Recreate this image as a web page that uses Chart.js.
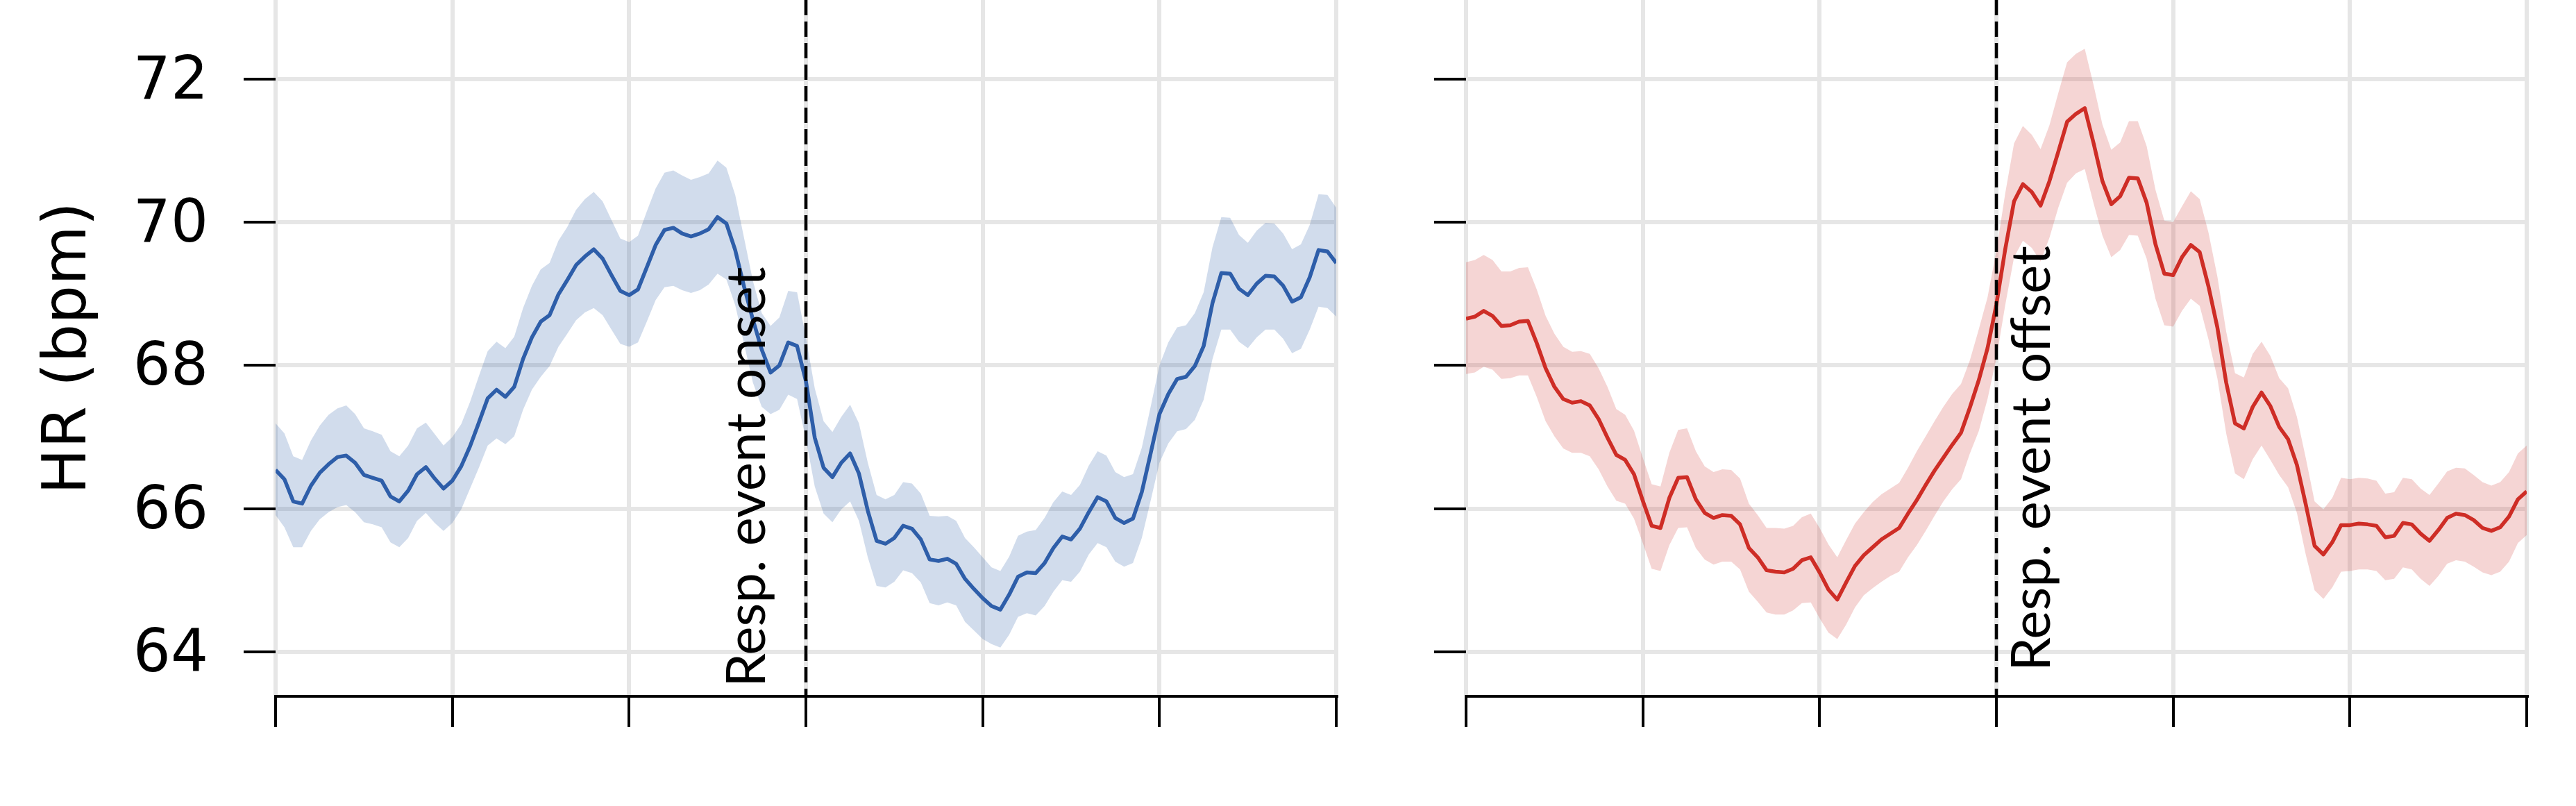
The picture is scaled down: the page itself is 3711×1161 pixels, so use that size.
<!DOCTYPE html>
<html>
<head>
<meta charset="utf-8">
<script src="https://cdn.jsdelivr.net/npm/chart.js@4.4.1/dist/chart.umd.min.js"></script>
<style>
html, body { margin: 0; padding: 0; background: #fff; }
#wrap { position: relative; width: 3711px; height: 1161px; overflow: hidden; background: #fff; }
canvas { position: absolute; top: 0; }
#onsetChart { left: 0; }
#offsetChart { left: 2066px; }
</style>
</head>
<body>
<div id="wrap">
<canvas id="onsetChart" width="1935" height="1161"></canvas>
<canvas id="offsetChart" width="1584" height="1161"></canvas>
</div>
<script>
// HR around respiratory event onset (blue) and offset (red), mean with band
var xTicks = [0, 20, 40, 60, 80, 100, 120];
var yTicks = [64, 66, 68, 70, 72];
var yMin = 63.38, yMax = 73.1;
var eventAt = 60;

var onsetMean = [66.54, 66.41, 66.10, 66.07, 66.32, 66.50, 66.62, 66.72, 66.74, 66.64,
  66.47, 66.43, 66.39, 66.17, 66.10, 66.25, 66.48, 66.58, 66.42, 66.28,
  66.39, 66.59, 66.87, 67.20, 67.54, 67.66, 67.56, 67.70, 68.09, 68.39,
  68.61, 68.70, 68.99, 69.19, 69.40, 69.52, 69.62, 69.49, 69.26, 69.04,
  68.98, 69.06, 69.37, 69.68, 69.89, 69.92, 69.84, 69.80, 69.84, 69.90,
  70.07, 69.98, 69.61, 69.10, 68.64, 68.22, 67.90, 68.00, 68.32, 68.27,
  67.78, 66.99, 66.57, 66.44, 66.64, 66.77, 66.49, 65.97, 65.55, 65.51,
  65.59, 65.76, 65.72, 65.57, 65.29, 65.27, 65.30, 65.23, 65.02, 64.88,
  64.75, 64.64, 64.59, 64.80, 65.05, 65.11, 65.10, 65.24, 65.45, 65.61,
  65.57, 65.72, 65.95, 66.16, 66.10, 65.87, 65.80, 65.86, 66.23, 66.77,
  67.32, 67.60, 67.81, 67.84, 67.99, 68.27, 68.87, 69.29, 69.28, 69.07,
  68.98, 69.14, 69.25, 69.24, 69.11, 68.89, 68.95, 69.23, 69.61, 69.59, 69.43];
var onsetUpper = [67.19, 67.05, 66.73, 66.68, 66.95, 67.16, 67.31, 67.40, 67.44, 67.32,
  67.12, 67.08, 67.03, 66.80, 66.73, 66.88, 67.12, 67.20, 67.04, 66.88,
  67.00, 67.18, 67.49, 67.85, 68.20, 68.33, 68.24, 68.40, 68.80, 69.11,
  69.34, 69.43, 69.74, 69.93, 70.17, 70.32, 70.42, 70.29, 70.03, 69.77,
  69.72, 69.81, 70.15, 70.47, 70.69, 70.72, 70.65, 70.59, 70.63, 70.68,
  70.86, 70.76, 70.38, 69.78, 69.18, 68.73, 68.55, 68.67, 69.04, 69.02,
  68.39, 67.68, 67.22, 67.07, 67.28, 67.45, 67.19, 66.64, 66.19, 66.13,
  66.19, 66.37, 66.35, 66.21, 65.90, 65.89, 65.90, 65.83, 65.59, 65.46,
  65.32, 65.18, 65.13, 65.33, 65.62, 65.68, 65.70, 65.87, 66.09, 66.24,
  66.19, 66.33, 66.60, 66.80, 66.74, 66.51, 66.44, 66.48, 66.85, 67.42,
  68.00, 68.32, 68.53, 68.56, 68.73, 69.02, 69.65, 70.07, 70.06, 69.82,
  69.71, 69.88, 69.99, 69.98, 69.84, 69.62, 69.69, 69.96, 70.39, 70.38, 70.20];
var onsetLower = [65.91, 65.74, 65.46, 65.46, 65.69, 65.85, 65.95, 66.02, 66.05, 65.95,
  65.81, 65.78, 65.74, 65.53, 65.46, 65.59, 65.83, 65.94, 65.80, 65.69,
  65.80, 65.99, 66.28, 66.57, 66.88, 66.98, 66.90, 67.01, 67.38, 67.66,
  67.84, 67.99, 68.26, 68.44, 68.63, 68.74, 68.80, 68.70, 68.50, 68.30,
  68.26, 68.32, 68.61, 68.91, 69.09, 69.11, 69.05, 69.01, 69.05, 69.13,
  69.28, 69.20, 68.84, 68.30, 67.76, 67.42, 67.32, 67.38, 67.59, 67.53,
  66.97, 66.31, 65.93, 65.81, 65.99, 66.10, 65.83, 65.32, 64.92, 64.90,
  64.98, 65.14, 65.10, 64.97, 64.68, 64.65, 64.69, 64.65, 64.42, 64.30,
  64.18, 64.11, 64.06, 64.24, 64.49, 64.54, 64.51, 64.64, 64.84, 65.00,
  64.98, 65.12, 65.36, 65.52, 65.46, 65.26, 65.19, 65.24, 65.59, 66.11,
  66.64, 66.91, 67.08, 67.11, 67.24, 67.52, 68.09, 68.50, 68.50, 68.33,
  68.24, 68.39, 68.50, 68.50, 68.37, 68.17, 68.23, 68.50, 68.82, 68.80, 68.68];

var offsetMean = [68.65, 68.68, 68.76, 68.69, 68.55, 68.56, 68.61, 68.62, 68.31, 67.96,
  67.70, 67.53, 67.48, 67.50, 67.44, 67.25, 66.99, 66.75, 66.68, 66.48,
  66.11, 65.76, 65.73, 66.15, 66.43, 66.44, 66.13, 65.94, 65.87, 65.91,
  65.90, 65.78, 65.45, 65.32, 65.14, 65.12, 65.11, 65.16, 65.28, 65.32,
  65.11, 64.87, 64.73, 64.97, 65.20, 65.35, 65.46, 65.57, 65.65, 65.73,
  65.93, 66.12, 66.33, 66.53, 66.71, 66.89, 67.06, 67.41, 67.79, 68.24,
  68.85, 69.62, 70.29, 70.53, 70.42, 70.23, 70.57, 70.98, 71.40, 71.51,
  71.59, 71.10, 70.57, 70.25, 70.36, 70.62, 70.61, 70.27, 69.69, 69.28,
  69.26, 69.51, 69.68, 69.58, 69.10, 68.53, 67.76, 67.19, 67.12, 67.42,
  67.62, 67.43, 67.14, 66.97, 66.61, 66.06, 65.48, 65.36, 65.53, 65.77,
  65.77, 65.79, 65.78, 65.76, 65.60, 65.62, 65.80, 65.78, 65.65, 65.55,
  65.70, 65.87, 65.93, 65.91, 65.84, 65.73, 65.69, 65.74, 65.89, 66.13, 66.24];
var offsetUpper = [69.44, 69.47, 69.54, 69.47, 69.31, 69.31, 69.36, 69.37, 69.06, 68.69,
  68.44, 68.26, 68.19, 68.20, 68.16, 67.96, 67.70, 67.39, 67.31, 67.09,
  66.71, 66.34, 66.31, 66.78, 67.10, 67.12, 66.80, 66.59, 66.51, 66.55,
  66.54, 66.42, 66.07, 65.91, 65.73, 65.73, 65.72, 65.76, 65.88, 65.93,
  65.73, 65.50, 65.32, 65.56, 65.79, 65.95, 66.09, 66.20, 66.28, 66.36,
  66.57, 66.80, 67.01, 67.22, 67.42, 67.60, 67.74, 68.07, 68.50, 68.95,
  69.60, 70.40, 71.10, 71.34, 71.22, 71.02, 71.35, 71.80, 72.23, 72.35,
  72.42, 71.91, 71.36, 71.01, 71.11, 71.41, 71.41, 71.06, 70.45, 70.02,
  70.00, 70.22, 70.43, 70.32, 69.85, 69.24, 68.47, 67.89, 67.83, 68.16,
  68.33, 68.13, 67.82, 67.68, 67.28, 66.71, 66.10, 65.99, 66.15, 66.43,
  66.41, 66.43, 66.42, 66.39, 66.21, 66.23, 66.43, 66.41, 66.28, 66.19,
  66.35, 66.52, 66.57, 66.56, 66.47, 66.37, 66.32, 66.37, 66.51, 66.77, 66.88];
var offsetLower = [67.88, 67.90, 67.98, 67.94, 67.81, 67.82, 67.86, 67.86, 67.56, 67.22,
  67.01, 66.84, 66.78, 66.78, 66.73, 66.55, 66.31, 66.11, 66.07, 65.86,
  65.52, 65.16, 65.13, 65.49, 65.73, 65.74, 65.45, 65.29, 65.22, 65.26,
  65.26, 65.15, 64.84, 64.70, 64.55, 64.52, 64.52, 64.58, 64.68, 64.69,
  64.47, 64.27, 64.18, 64.38, 64.62, 64.79, 64.89, 64.98, 65.06, 65.12,
  65.32, 65.49, 65.69, 65.90, 66.10, 66.27, 66.41, 66.77, 67.08, 67.53,
  68.10, 68.84, 69.51, 69.74, 69.64, 69.45, 69.78, 70.20, 70.55, 70.68,
  70.74, 70.26, 69.81, 69.51, 69.61, 69.82, 69.81, 69.49, 68.93, 68.56,
  68.54, 68.76, 68.93, 68.83, 68.36, 67.82, 67.05, 66.49, 66.41, 66.69,
  66.88, 66.68, 66.47, 66.30, 65.94, 65.36, 64.86, 64.74, 64.90, 65.12,
  65.13, 65.15, 65.15, 65.13, 65.00, 65.02, 65.18, 65.15, 65.02, 64.92,
  65.06, 65.23, 65.28, 65.26, 65.19, 65.11, 65.07, 65.12, 65.26, 65.52, 65.63];

Chart.defaults.font.family = 'DejaVu Sans';
Chart.defaults.color = '#000';

// dashed event line + rotated label
var eventMarker = {
  id: 'eventMarker',
  afterDatasetsDraw: function(chart, args, opts) {
    var ctx = chart.ctx, area = chart.chartArea;
    var px = chart.scales.x.getPixelForValue(opts.at);
    ctx.save();
    ctx.strokeStyle = '#000';
    ctx.lineWidth = 4.5;
    ctx.setLineDash([22, 9]);
    ctx.beginPath();
    ctx.moveTo(px, area.top);
    ctx.lineTo(px, area.bottom);
    ctx.stroke();
    ctx.setLineDash([]);
    ctx.translate(px + opts.dx, area.bottom - opts.dy);
    ctx.rotate(-Math.PI / 2);
    ctx.font = '78px Lato';
    ctx.fillStyle = '#000';
    ctx.textBaseline = 'alphabetic';
    ctx.textAlign = 'left';
    ctx.fillText(opts.text, 0, 0);
    ctx.restore();
  }
};

function toPoints(arr) {
  return arr.map(function(v, i) { return {x: i, y: v}; });
}

function makeChart(id, mean, upper, lower, lineColor, bandColor, marker, withLabels) {
  return new Chart(document.getElementById(id), {
    type: 'line',
    data: {
      datasets: [
        {data: toPoints(upper), borderWidth: 0, pointRadius: 0, fill: false},
        {data: toPoints(lower), borderWidth: 0, pointRadius: 0, fill: '-1', backgroundColor: bandColor},
        {data: toPoints(mean), borderColor: lineColor, borderWidth: 5.5, pointRadius: 0,
         fill: false, tension: 0, borderJoinStyle: 'round'}
      ]
    },
    options: {
      responsive: false,
      animation: false,
      devicePixelRatio: 1,
      layout: {padding: {left: 0, right: 10, top: 0, bottom: 0}},
      plugins: {legend: {display: false}, tooltip: {enabled: false}, eventMarker: marker},
      scales: {
        x: {
          type: 'linear', min: 0, max: 120,
          afterBuildTicks: function(s) { s.ticks = xTicks.map(function(v) { return {value: v}; }); },
          afterFit: function(s) { s.height = 158; s.paddingLeft = 0; s.paddingRight = 0; },
          ticks: {display: false},
          grid: {color: '#e6e6e6', lineWidth: 6, drawTicks: true, tickLength: 44, tickColor: '#000', tickWidth: 4},
          border: {display: true, color: '#000', width: 4}
        },
        y: {
          min: yMin, max: yMax,
          afterBuildTicks: function(s) { s.ticks = yTicks.map(function(v) { return {value: v}; }); },
          afterFit: function(s) { s.width = withLabels ? 397 : 46; s.paddingTop = 0; s.paddingBottom = 0; },
          ticks: {display: withLabels, padding: 51, labelOffset: 6, color: '#000', font: {size: 85}},
          grid: {color: '#e6e6e6', lineWidth: 6, drawTicks: true, tickLength: 46, tickColor: '#000', tickWidth: 4},
          border: {display: false},
          title: {display: withLabels, text: 'HR (bpm)', color: '#000', font: {size: 88}, padding: {top: 47, bottom: 0}}
        }
      }
    },
    plugins: [eventMarker]
  });
}

makeChart('onsetChart', onsetMean, onsetUpper, onsetLower, '#2f5eaa', 'rgba(47,94,170,0.22)',
  {at: eventAt, text: 'Resp. event onset', dx: -59, dy: 13}, true);
makeChart('offsetChart', offsetMean, offsetUpper, offsetLower, '#cf2e26', 'rgba(207,46,38,0.2)',
  {at: eventAt, text: 'Resp. event offset', dx: 77, dy: 36}, false);
</script>
</body>
</html>
